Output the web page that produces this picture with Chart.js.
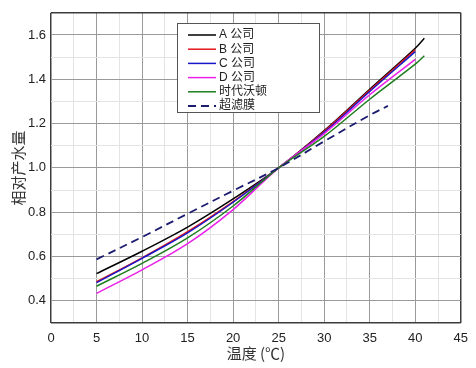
<!DOCTYPE html>
<html>
<head>
<meta charset="utf-8">
<script src="https://cdn.jsdelivr.net/npm/chart.js@4"></script>
<style>
  html, body { margin: 0; padding: 0; background: #fff; }
  #wrap { width: 476px; height: 368px; }
</style>
</head>
<body>
<div id="wrap"><canvas id="chart"></canvas></div>
<script>
// 温度 (℃)
const temps = [5, 10, 15, 20, 25, 30, 35, 40];
const tempsLong = [5, 10, 15, 20, 25, 30, 35, 40, 41];
const tempsUF = [5, 10, 15, 20, 25, 30, 35, 37];

// 相对产水量
const companyA = [0.523, 0.624, 0.733, 0.860, 1.0, 1.168, 1.355, 1.540, 1.585];
const companyB = [0.486, 0.594, 0.712, 0.848, 1.0, 1.165, 1.350, 1.533];
const companyC = [0.482, 0.592, 0.707, 0.845, 1.0, 1.160, 1.345, 1.525];
const companyD = [0.434, 0.540, 0.658, 0.812, 1.0, 1.155, 1.330, 1.490];
const vontron = [0.466, 0.569, 0.684, 0.828, 1.0, 1.142, 1.310, 1.468, 1.506];
const ufMembrane = [0.587, 0.688, 0.793, 0.897, 1.0, 1.120, 1.238, 1.280];

const seriesNames = ['A 公司', 'B 公司', 'C 公司', 'D 公司', '时代沃顿', '超滤膜'];
const xTickLabels = [0, 5, 10, 15, 20, 25, 30, 35, 40, 45];
const yTickLabels = ['0.4', '0.6', '0.8', '1.0', '1.2', '1.4', '1.6'];

const toPoints = (xs, ys) => ys.map((y, i) => ({ x: xs[i], y: y }));

const frameColor = '#3c3c3c';
const majorGrid = '#9a9a9a';
const minorGrid = '#e4e4e4';

function makeSet(label, xs, ys, color, order, dash) {
    return {
        label: label,
        data: toPoints(xs, ys),
        borderColor: color,
        backgroundColor: color,
        borderWidth: dash ? 1.8 : 1.5,
        borderDash: dash || [],
        pointRadius: 0,
        tension: 0.35,
        fill: false,
        order: order
    };
}

// legend drawn inside the plot, like the original
const boxLegend = {
    id: 'boxLegend',
    afterDatasetsDraw(chart) {
        const ctx = chart.ctx;
        const left = 177.5, top = 23.5, w = 142, h = 89;
        ctx.save();
        ctx.fillStyle = '#fff';
        ctx.fillRect(left, top, w, h);
        ctx.strokeStyle = '#555';
        ctx.lineWidth = 1;
        ctx.strokeRect(left, top, w, h);
        ctx.font = "12px 'Liberation Sans', 'Noto Sans CJK SC', sans-serif";
        ctx.textBaseline = 'middle';
        chart.data.datasets.forEach((ds, i) => {
            const y = 35 + i * 14.2;
            ctx.beginPath();
            ctx.strokeStyle = ds.borderColor;
            ctx.lineWidth = ds.borderWidth;
            ctx.setLineDash(ds.borderDash);
            ctx.moveTo(188, y);
            ctx.lineTo(216, y);
            ctx.stroke();
            ctx.setLineDash([]);
            ctx.fillStyle = '#222';
            ctx.fillText(ds.label, 219, y);
        });
        ctx.restore();
    }
};

const ctx = document.getElementById('chart');
new Chart(ctx, {
    type: 'line',
    data: {
        datasets: [
            makeSet(seriesNames[0], tempsLong, companyA, '#000000', 5),
            makeSet(seriesNames[1], temps, companyB, '#e3161b', 4),
            makeSet(seriesNames[2], temps, companyC, '#1818c8', 3),
            makeSet(seriesNames[3], temps, companyD, '#ea22ea', 2),
            makeSet(seriesNames[4], tempsLong, vontron, '#1e7d1e', 1),
            makeSet(seriesNames[5], tempsUF, ufMembrane, '#1c1c70', 0, [8, 5])
        ]
    },
    options: {
        responsive: true,
        maintainAspectRatio: false,
        animation: false,
        layout: { padding: { top: 9, right: 10, left: 0, bottom: 0 } },
        plugins: {
            legend: { display: false },
            tooltip: { enabled: false }
        },
        scales: {
            x: {
                type: 'linear',
                min: 0,
                max: 45,
                afterBuildTicks: (scale) => {
                    const t = [];
                    for (let v = 0; v <= 45; v += 2.5) t.push({ value: v });
                    scale.ticks = t;
                },
                afterFit: (scale) => { scale.height = 45; },
                ticks: {
                    autoSkip: false,
                    maxRotation: 0,
                    padding: 8,
                    color: '#222',
                    font: { family: "'Liberation Sans', Arial, sans-serif", size: 13 },
                    callback: (v) => xTickLabels.includes(v) ? String(v) : ''
                },
                grid: {
                    drawTicks: false,
                    color: (c) => {
                        const v = c.tick ? c.tick.value : 0;
                        if (v === 0 || v === 45) return frameColor;
                        return v % 5 === 0 ? majorGrid : minorGrid;
                    },
                    lineWidth: (c) => {
                        const v = c.tick ? c.tick.value : 0;
                        return (v === 0 || v === 45) ? 1.5 : 1;
                    }
                },
                border: { display: false },
                title: {
                    display: true,
                    text: '温度 (℃)',
                    color: '#333',
                    font: { family: "'Noto Sans CJK SC', sans-serif", size: 15 },
                    padding: { top: 0, bottom: 6 }
                }
            },
            y: {
                min: 0.3,
                max: 1.7,
                afterBuildTicks: (scale) => {
                    const t = [];
                    for (let k = 3; k <= 17; k++) t.push({ value: k / 10 });
                    scale.ticks = t;
                },
                afterFit: (scale) => { scale.width = 51; },
                ticks: {
                    autoSkip: false,
                    padding: 5,
                    color: '#222',
                    font: { family: "'Liberation Sans', Arial, sans-serif", size: 13 },
                    callback: (v) => {
                        const s = v.toFixed(1);
                        return yTickLabels.includes(s) ? s : '';
                    }
                },
                grid: {
                    drawTicks: false,
                    color: (c) => {
                        const k = c.tick ? Math.round(c.tick.value * 10) : 3;
                        if (k === 3 || k === 17) return frameColor;
                        return k % 2 === 0 ? majorGrid : minorGrid;
                    },
                    lineWidth: (c) => {
                        const k = c.tick ? Math.round(c.tick.value * 10) : 3;
                        return (k === 3 || k === 17) ? 1.5 : 1;
                    }
                },
                border: { display: false },
                title: {
                    display: true,
                    text: '相对产水量',
                    color: '#333',
                    font: { family: "'Noto Sans CJK SC', sans-serif", size: 15 },
                    padding: { top: 9, bottom: 0 }
                }
            }
        }
    },
    plugins: [boxLegend]
});
</script>
</body>
</html>
